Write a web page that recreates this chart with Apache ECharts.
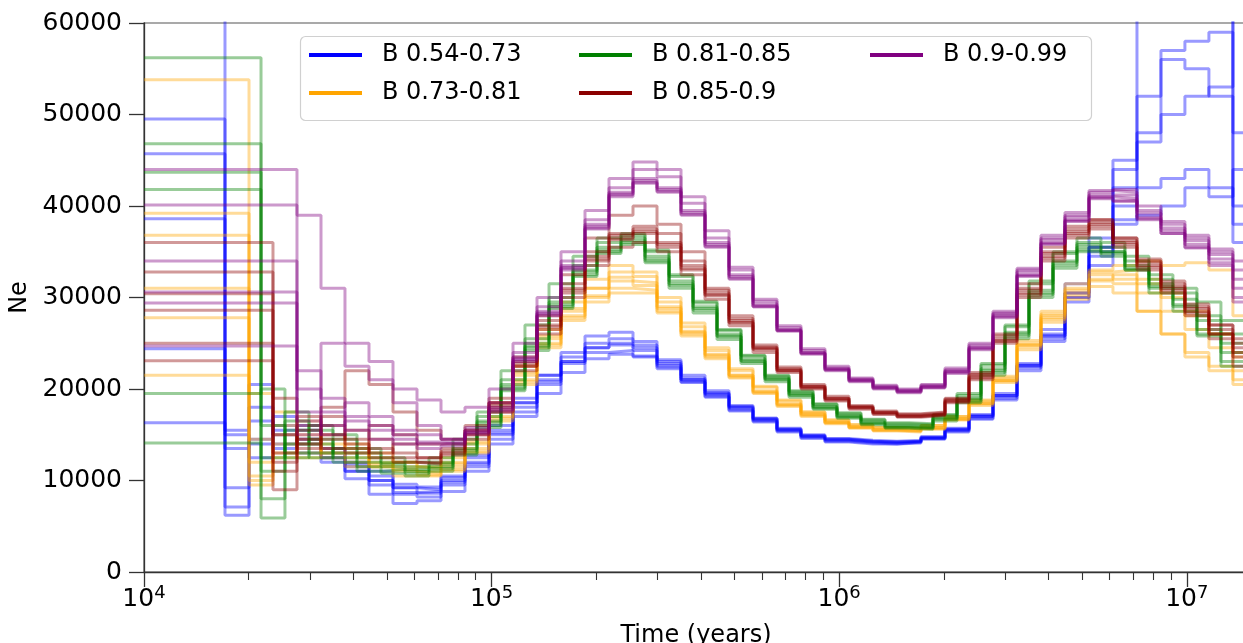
<!DOCTYPE html>
<html><head><meta charset="utf-8">
<script src="https://cdn.jsdelivr.net/npm/echarts@6/dist/echarts.min.js"></script>
<style>html,body{margin:0;padding:0;background:#fff;}#chart{width:1243px;height:643px;}</style>
</head><body><div id="chart"></div>
<script>
// ---------- data ----------
const T_START = 10000;
// time breakpoints (years) of grid A and grid B; last entry is the end of the last interval
const TIMES_A = [17100, 20050, 23500, 27550, 32300, 37860, 44390, 52040, 61010, 71520, 83840, 98290, 115230, 135080, 158360, 185650, 217650, 255150, 299130, 350670, 411100, 481950, 565000, 662220, 776250, 910010, 1066900, 1250700, 1466500, 1719200, 2015400, 2362800, 2769700, 3247500, 3806300, 4461900, 5231400, 6131900, 7189400, 8427000, 9876400, 11578000, 13573000, 18000000];
const TIMES_B = [21710, 25440, 29830, 34970, 41000, 48060, 56340, 66050, 77430, 90780, 106410, 124740, 146280, 171480, 201030, 235680, 276270, 323930, 379740, 445160, 521850, 611750, 717220, 840780, 985370, 1155200, 1354200, 1587700, 1861300, 2182200, 2558200, 2998900, 3516000, 4121800, 4830600, 5662400, 6637400, 7782200, 9122200, 10695000, 12537000, 18000000];

const GROUP_NAMES = ['B 0.54-0.73', 'B 0.73-0.81', 'B 0.81-0.85', 'B 0.85-0.9', 'B 0.9-0.99'];

const blueReps = [
 [90000, 15500,16500,15000,14000,12500,11500,10000,9200,9000,10300, 12500,15500,18500,21500,24000,25800,26200,25200,23200,21500, 19800,18200,16800,15600,15000,14600,14400,14300,14400,14800, 15600,17000,19300,22600,25800,30500,35500,44000,52000,57000, 58000,59000,38000],
 [49500, 6200,14500,17000,15500,13500,11000,9500,8500,8200,9500, 11500,14500,17500,20500,23000,24500,24800,24200,22600,21000, 19400,17900,16600,15500,14800,14400,14200,14100,14200,14600, 15400,16800,19000,22300,25500,30000,35000,40000,47000,50000, 52000,53000,65000],
 [38600, 7100,18000,13500,14500,12000,10200,8500,7500,7800,8800, 11000,14000,17000,19500,21800,23300,23800,23500,22400,20800, 19200,17700,16500,15400,14700,14300,14100,14000,14200,14600, 15500,17000,19200,22800,26500,31500,36500,38000,42000,43000, 44000,42000,40000],
 [24400, 9200,14000,15500,13000,12500,11800,10500,9600,9300,10500, 12800,16000,19000,21500,23500,25000,25500,24800,23000,21200, 19600,18100,16800,15700,14900,14500,14300,14200,14300,14700, 15700,17200,19500,22600,26000,29500,33500,45000,70000,70000, 66000,64000,36000],
 [16300, 13500,20500,14000,16000,13000,12000,11000,9200,8600,9800, 11800,15000,18500,21000,22800,24000,24200,23600,22200,20700, 19100,17600,16400,15300,14600,14200,14000,14000,14100,14500, 15300,16700,18800,22000,25200,30500,35500,38500,39000,40000, 42000,41000,44000],
 [45700, 15000,12500,16000,14500,13500,11000,10000,8700,8800,10000, 12000,15200,18000,20800,23000,24500,25000,24500,22800,21000, 19500,18000,16700,15600,14900,14500,14300,14200,14300,14700, 15600,17100,19300,22500,25800,30000,34500,42000,48000,56000, 55000,52000,48000]
];
const orangeReps = [
 [53800, 10000,16000,15000,14000,13500,12500,12000,11500,12000,14000, 17500,21500,25500,28500,31000,32800,32300,29500,26800,24200, 22000,20200,18700,17500,16600,16100,15800,15700,16000,17000, 18700,21200,25000,28500,31500,33000,33500,34000,33500,33800, 33000,28000],
 [39200, 14500,12500,16500,13000,12500,11500,11000,10800,11500,13500, 17000,21000,25000,28000,30000,31000,30800,28300,25800,23300, 21200,19500,18100,17000,16200,15700,15400,15300,15600,16600, 18200,20700,24300,27300,29800,31200,30500,28500,26000,23500, 22000,20500],
 [36800, 9500,14000,13000,15000,12000,13000,10500,10500,11000,13000, 16500,20500,24500,27500,29500,30500,30500,28500,26000,23500, 21300,19600,18200,17100,16300,15800,15500,15400,15700,16700, 18400,20900,24800,28000,30800,32500,32000,30500,28500,26500, 24500,22000],
 [31000, 19500,17500,12500,13500,14000,11500,12000,11000,12500,15000, 18500,22500,26500,29500,32000,33500,32800,30000,27200,24500, 22200,20300,18800,17500,16600,16100,15800,15700,16000,17000, 18800,21400,25300,28200,31000,32800,33000,31500,30000,28000, 26000,24000],
 [27800, 12000,13000,14500,12500,11500,12000,11200,10600,11200,13200, 16800,20800,24800,27800,30200,31800,31600,29000,26300,23800, 21500,19800,18400,17300,16400,15900,15600,15500,15800,16800, 18500,21000,24800,27800,30500,32000,32500,32000,30500,28500, 26000,23500],
 [21500, 10500,15000,14000,13000,13000,11800,11500,11300,11800,14200, 17800,21800,25800,28800,31000,32200,31300,28800,26200,23700, 21500,19700,18300,17200,16300,15800,15500,15400,15700,16700, 18400,20900,24600,27600,30200,31800,31500,28500,26000,24000, 22500,21000]
];
const greenReps = [
 [56200, 5900,14000,15500,13000,12000,11500,11000,11500,13500,16500, 20500,25000,29500,33000,35500,36500,34500,31800,29000,26000, 23300,21200,19500,18100,17100,16400,16000,15900,16900,19000, 22200,26200,30800,34000,35800,35000,33500,31500,29800,27500, 25000],
 [46800, 12500,17500,13000,14500,13500,12500,11500,12000,14000,17000, 21000,25500,30000,33500,36000,37000,35000,32300,29400,26400, 23600,21400,19700,18300,17300,16600,16200,16100,17100,19300, 22600,26800,31500,34800,36000,35500,34000,32000,30500,28000, 26000],
 [43700, 16000,12500,14500,12000,11500,10800,10500,11000,13000,16000, 20000,24500,29000,32500,35000,36000,34000,31300,28600,25700, 23000,21000,19300,17900,16900,16200,15800,15700,16700,18700, 21800,25800,30300,33500,35200,34800,33000,30500,28500,25800, 23000],
 [41800, 8000,15500,16000,15000,12500,12000,12000,12500,14500,17500, 22000,27000,31500,34500,36500,36800,35200,32500,29600,26500, 23700,21500,19800,18400,17400,16700,16300,16200,17200,19500, 22800,27000,31800,35000,36500,36000,34500,32500,31000,29500, 27500],
 [19500, 20000,13000,12500,13500,11000,11200,11200,11800,13300,16300, 20200,24700,29200,32800,35200,36200,34200,31500,28800,25800, 23100,21100,19400,18000,17000,16300,15900,15800,16800,18900, 22000,26000,30500,33800,35500,35000,33200,31000,29000,26500, 24000],
 [14100, 11000,16500,14000,12500,13000,11800,10800,11300,12800,15800, 19800,24200,28800,32300,34800,35800,33800,31000,28300,25400, 22800,20800,19100,17800,16800,16100,15700,15600,16500,18500, 21500,25500,30000,33200,35000,34500,33000,31200,29200,26000, 22500]
];
const brownReps = [
 [36000, 9000,17000,16000,14000,13500,12500,12000,13000,15000,18000, 22500,26500,30500,34000,36500,37000,35500,33000,30200,27200, 24300,22000,20200,18900,18000,17400,17100,17300,18800,21500, 25500,30800,34800,37200,38200,36200,33800,31200,28800,26500, 24000],
 [32800, 15000,14000,18000,22000,20500,17500,15500,14500,16000,19000, 23500,28000,32500,36500,39000,40000,38000,35000,31000,28000, 24800,22400,20500,19200,18200,17600,17300,17500,19000,21800, 26000,31500,35500,37800,38500,36500,34000,31500,29000,27000, 25000],
 [30400, 11000,15500,13500,13000,14500,13000,12500,13500,15500,18500, 23000,27500,31500,35000,37000,37500,36000,33500,30500,27500, 24500,22100,20300,19000,18000,17400,17000,17200,18700,21300, 25300,30500,34500,37000,38000,36000,33500,31000,28500,26000, 23500],
 [28600, 19000,13500,14500,15500,12500,12000,11800,12800,14500,17500, 22000,26000,30000,33500,35500,36000,35000,32500,29800,26900, 24000,21800,20000,18700,17800,17200,16900,17100,18500,21000, 25000,30000,34000,36500,37500,35500,33000,30500,28000,25500, 22500],
 [25000, 13000,16000,15000,13500,13000,14000,12500,13200,15200,18200, 22800,27000,31000,34500,36800,37200,35800,33200,30300,27300, 24400,22000,20100,18800,17900,17300,17000,17200,18600,21200, 25200,30300,34300,36800,37800,35800,33300,30800,28300,26000, 24500],
 [23100, 12000,14500,17000,14500,16000,15000,14000,14000,15500,18500, 22500,26800,30800,34200,36300,37800,37000,34000,30800,27700, 24600,22200,20300,19000,18100,17500,17200,17400,18900,21600, 25800,31000,35000,37500,38500,36500,34200,31800,29300,27000, 25500]
];
const purpleReps = [
 [44000, 22000,19000,17000,16000,15500,15000,14500,15500,18000,23500, 28500,33500,38000,41500,43000,42000,39500,36000,32500,29300, 26500,24000,22200,21000,20200,19800,20300,22000,24600,28200, 32800,36300,38800,41200,41200,39200,37600,36200,34700,33000],
 [40100, 39000,31000,25000,23000,20000,18800,17500,18000,20000,25000, 30000,35000,39500,43000,44800,44000,41000,37300,33300,29800, 26900,24400,22500,21200,20400,20000,20500,22300,25000,28500, 33000,36800,39300,41700,41500,39500,38000,36500,35000,34000],
 [34000, 17500,25000,22500,21000,18500,16000,14500,15000,17500,23000, 28000,33000,37500,41000,42500,41500,39000,35500,32000,29000, 26300,23800,22000,20800,20000,19600,20100,21700,24300,27800, 32300,35800,38300,40800,40500,38500,37000,35500,33800,31000],
 [30600, 15000,17500,15500,14500,14000,13500,13800,15200,17800,23200, 28200,33200,37800,41300,42800,41800,39300,35800,32300,29100, 26400,23900,22100,20900,20100,19700,20200,21900,24500,28000, 32500,36000,38500,41000,40800,38800,37300,35800,34200,32000],
 [29400, 20000,16000,18500,17000,15000,14000,14200,15800,18500,24000, 29000,34000,38500,42000,44000,43200,40300,36500,33000,29600, 26700,24200,22300,21100,20300,19900,20400,22100,24800,28300, 33200,36500,39000,41500,41800,40000,38300,36800,35300,30000],
 [24700, 16500,15000,16500,15500,14500,14200,14000,15300,17700,23300, 28300,33300,37600,41200,42600,41600,39100,35600,32100,29000, 26400,23900,22100,20900,20100,19700,20200,21800,24400,27900, 32400,35900,38400,40900,40600,38600,37000,35400,33500,29500]
];

const X_MAJOR_TICKS = [10000, 100000, 1000000, 10000000];
const X_MINOR_TICKS = [20000,30000,40000,50000,60000,70000,80000,90000, 200000,300000,400000,500000,600000,700000,800000,900000, 2000000,3000000,4000000,5000000,6000000,7000000,8000000,9000000];

// ---------- chart ----------
const FONT = 'DejaVu Sans';
const COLORS = ['#0000ff', '#ffa500', '#008000', '#8b0000', '#800080'];
const ALPHA_COLORS = ['rgba(0,0,255,0.4)', 'rgba(255,165,0,0.4)', 'rgba(0,128,0,0.4)', 'rgba(139,0,0,0.4)', 'rgba(128,0,128,0.4)'];

const groups = [
  { reps: blueReps, times: [T_START].concat(TIMES_A) },
  { reps: orangeReps, times: [T_START].concat(TIMES_A.slice(1)) },
  { reps: greenReps, times: [T_START].concat(TIMES_B) },
  { reps: brownReps, times: [T_START].concat(TIMES_A.slice(2)) },
  { reps: purpleReps, times: [T_START].concat(TIMES_A.slice(3)) }
];

const series = [];
groups.forEach((g, gi) => {
  g.reps.forEach(vals => {
    const n = Math.min(vals.length, g.times.length - 1);
    const data = [];
    for (let i = 0; i < n; i++) data.push([g.times[i], vals[i]]);
    data.push([g.times[n], vals[n - 1]]);
    series.push({
      name: GROUP_NAMES[gi], type: 'line', step: 'end', symbol: 'none', showSymbol: false,
      animation: false, silent: true, clip: true, z: 2,
      xAxisIndex: 0, yAxisIndex: 0,
      itemStyle: { color: COLORS[gi] },
      lineStyle: { color: ALPHA_COLORS[gi], width: 3 },
      data: data
    });
  });
});

function legendData(idx) {
  return idx.map(i => ({ name: GROUP_NAMES[i], itemStyle: { color: COLORS[i], opacity: 1, borderWidth: 0 } }));
}
const legendCommon = {
  orient: 'vertical', icon: 'rect', itemWidth: 53, itemHeight: 4, itemGap: 14,
  top: 43, padding: 0, selectedMode: false, z: 10,
  textStyle: { fontSize: 24, fontFamily: FONT, color: '#000', padding: [0, 0, 0, 15] }
};

const chart = echarts.init(document.getElementById('chart'), null, { renderer: 'canvas' });
chart.setOption({
  backgroundColor: '#ffffff',
  animation: false,
  grid: { left: 144, right: -5, top: 23, bottom: 71, containLabel: false, outerBoundsMode: 'none',
          show: true, borderColor: '#555', borderWidth: 1.2, backgroundColor: 'transparent' },
  xAxis: [
    {
      type: 'log', logBase: 10, min: 10000, max: 15000000,
      axisLine: { show: true, lineStyle: { color: '#333', width: 1.3 } },
      axisTick: { show: true, length: 15, customValues: X_MAJOR_TICKS, lineStyle: { color: '#333', width: 1.3 } },
      splitLine: { show: false }, minorTick: { show: false },
      axisLabel: {
        customValues: X_MAJOR_TICKS, margin: 12, showMinLabel: true, showMaxLabel: true, hideOverlap: false,
        formatter: v => '{b|10}{s|' + Math.round(Math.log10(v)) + '}',
        rich: {
          b: { fontSize: 25, fontFamily: FONT, color: '#000', lineHeight: 30 },
          s: { fontSize: 18, fontFamily: FONT, color: '#000', lineHeight: 18, verticalAlign: 'top' }
        }
      },
      name: 'Time (years)', nameLocation: 'middle', nameGap: 52,
      nameTextStyle: { fontSize: 24, fontFamily: FONT, color: '#000' }
    },
    {
      type: 'log', logBase: 10, min: 10000, max: 15000000, position: 'bottom', offset: 0,
      axisLine: { show: false }, axisLabel: { show: false }, splitLine: { show: false },
      axisTick: { show: true, length: 8, customValues: X_MINOR_TICKS, lineStyle: { color: '#333', width: 1.1 } }
    }
  ],
  yAxis: {
    type: 'value', min: 0, max: 60000, interval: 10000,
    axisLine: { show: true, lineStyle: { color: '#333', width: 1.3 } },
    axisTick: { show: true, length: 15, lineStyle: { color: '#333', width: 1.3 } },
    splitLine: { show: false },
    axisLabel: { fontSize: 25, fontFamily: FONT, color: '#000', margin: 22, formatter: v => String(v) },
    name: 'Ne', nameLocation: 'middle', nameGap: 95, nameRotate: 90,
    nameTextStyle: { fontSize: 24, fontFamily: FONT, color: '#000' }
  },
  legend: [
    Object.assign({}, legendCommon, { left: 309, data: legendData([0, 1]) }),
    Object.assign({}, legendCommon, { left: 579, data: legendData([2, 3]) }),
    Object.assign({}, legendCommon, { left: 870, data: legendData([4]) })
  ],
  graphic: { elements: [{
    type: 'rect', z: 5, silent: true,
    shape: { x: 300.5, y: 36.5, width: 791, height: 84, r: 5 },
    style: { fill: 'rgba(255,255,255,0.8)', stroke: '#d0d0d0', lineWidth: 1.2 }
  }] },
  series: series
});
</script></body></html>
